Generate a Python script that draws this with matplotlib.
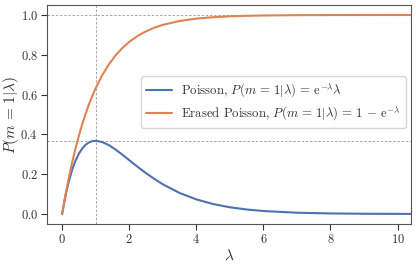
import numpy as np
import matplotlib
matplotlib.use('Agg')
import matplotlib.pyplot as plt
import seaborn as sns

# values
lam = [0.0, 0.1, 0.2, 0.3, 0.4, 0.5, 0.6, 0.7, 0.8, 0.9, 1.0, 1.2, 1.4, 1.6, 1.8,
       2.0, 2.25, 2.5, 2.75, 3.0, 3.5, 4.0, 4.5, 5.0, 5.5, 6.0, 7.0, 8.0, 9.0, 10.4]
poisson = [0.0, 0.0905, 0.1637, 0.2222, 0.2681, 0.3033, 0.3293, 0.3476, 0.3595, 0.3659,
           0.3679, 0.3614, 0.3452, 0.3230, 0.2975, 0.2707, 0.2371, 0.2052, 0.1761, 0.1494,
           0.1057, 0.0733, 0.0500, 0.0337, 0.0225, 0.0149, 0.0064, 0.0027, 0.0011, 0.0003]
erased = [0.0, 0.0952, 0.1813, 0.2592, 0.3297, 0.3935, 0.4512, 0.5034, 0.5507, 0.5934,
          0.6321, 0.6988, 0.7534, 0.7981, 0.8347, 0.8647, 0.8946, 0.9179, 0.9361, 0.9502,
          0.9698, 0.9817, 0.9889, 0.9933, 0.9959, 0.9975, 0.9991, 0.9997, 0.9999, 1.0]
peak_lam = 1.0
peak_val = 0.3679

sns.set_style('ticks')
plt.rcParams['font.family'] = ['cmr10', 'DejaVu Serif']
plt.rcParams['mathtext.fontset'] = 'cm'
plt.rcParams['axes.formatter.use_mathtext'] = True
plt.rcParams['text.color'] = '#333333'
plt.rcParams['axes.labelcolor'] = '#333333'
plt.rcParams['xtick.color'] = '#333333'
plt.rcParams['ytick.color'] = '#333333'
plt.rcParams['axes.edgecolor'] = '#555555'

pal = sns.color_palette('deep')

fig, ax = plt.subplots(figsize=(4.16, 2.65), dpi=100)
grid_kw = dict(color='#999999', ls=(0, (3, 2)), lw=0.6, zorder=0)
ax.axvline(peak_lam, **grid_kw)
ax.axhline(peak_val, **grid_kw)
ax.axhline(1.0, **grid_kw)

ax.plot(lam, poisson, color=pal[0], lw=1.5,
        label=r'Poisson, $P(m\,=\,1|\lambda)\,=\,\mathrm{e}^{-\lambda}\lambda$')
ax.plot(lam, erased, color=pal[1], lw=1.5,
        label=r'Erased Poisson, $P(m\,=\,1|\lambda)\,=\,1\,-\,\mathrm{e}^{-\lambda}$')

ax.set_xlim(-0.45, 10.4)
ax.set_ylim(-0.05, 1.05)
ax.set_xticks([0, 2, 4, 6, 8, 10])
ax.set_yticks([0.0, 0.2, 0.4, 0.6, 0.8, 1.0])
ax.tick_params(labelsize=9, length=4, pad=2.5)
ax.set_xlabel(r'$\lambda$', fontsize=11, labelpad=2)
ax.set_ylabel(r'$P(m\,=\,1|\lambda)$', fontsize=11)
ax.yaxis.set_label_coords(-0.072, 0.5)

ax.legend(loc='center right', bbox_to_anchor=(0.993, 0.555), fontsize=9.2,
          handlelength=2.0, handletextpad=0.75, labelspacing=0.35,
          borderpad=0.4, borderaxespad=0.2)

fig.subplots_adjust(left=0.113, right=0.988, top=0.981, bottom=0.155)
fig.savefig('out.png')
